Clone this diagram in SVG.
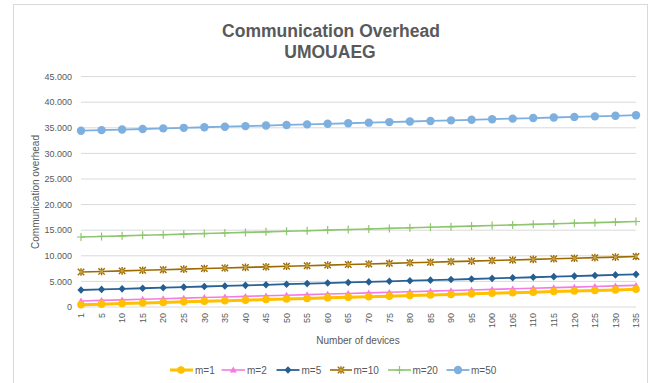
<svg xmlns="http://www.w3.org/2000/svg" xmlns:xlink="http://www.w3.org/1999/xlink" width="652" height="383" viewBox="0 0 652 383">
<style>
text{font-family:"Liberation Sans",Arial,sans-serif;fill:#595959}
.title{font-size:17.5px;font-weight:bold;text-anchor:middle}
.yl{font-size:9px;text-anchor:end}
.xl{font-size:9px;text-anchor:end}
.ax{font-size:10px;text-anchor:middle}
.lg{font-size:10px}
.grid{stroke:#d9d9d9;stroke-width:1}
.s{fill:none;stroke-linejoin:round}
.s1{stroke:#FFC000;stroke-width:3;marker-start:url(#mk1);marker-mid:url(#mk1);marker-end:url(#mk1)}
.s2{stroke:#F47BE0;stroke-width:1.6;marker-start:url(#mk2);marker-mid:url(#mk2);marker-end:url(#mk2)}
.s5{stroke:#2A6297;stroke-width:1.8;marker-start:url(#mk5);marker-mid:url(#mk5);marker-end:url(#mk5)}
.s10{stroke:#9C6A00;stroke-width:1.6;marker-start:url(#mk10);marker-mid:url(#mk10);marker-end:url(#mk10)}
.s20{stroke:#8DC66C;stroke-width:1.6;marker-start:url(#mk20);marker-mid:url(#mk20);marker-end:url(#mk20)}
.s50{stroke:#7DAFDF;stroke-width:1.8;marker-start:url(#mk50);marker-mid:url(#mk50);marker-end:url(#mk50)}
</style>
<defs>
<marker id="mk1" markerUnits="userSpaceOnUse" markerWidth="10" markerHeight="10" refX="5" refY="5" overflow="visible"><circle cx="5" cy="5" r="3.8" fill="#FFC000"/></marker>
<marker id="mk2" markerUnits="userSpaceOnUse" markerWidth="10" markerHeight="10" refX="5" refY="5" overflow="visible"><polygon points="5,1.6 8.5,7.6 1.5,7.6" fill="#F47BE0"/></marker>
<marker id="mk5" markerUnits="userSpaceOnUse" markerWidth="10" markerHeight="10" refX="5" refY="5" overflow="visible"><polygon points="5,1.2 8.6,5 5,8.8 1.4,5" fill="#255E91"/></marker>
<marker id="mk10" markerUnits="userSpaceOnUse" markerWidth="10" markerHeight="10" refX="5" refY="5" overflow="visible"><path d="M1.8,1.8 L8.2,8.2 M8.2,1.8 L1.8,8.2 M5,1.2 L5,8.8" stroke="#9C6A00" stroke-width="1.4" fill="none"/><rect x="3.5" y="3.5" width="3" height="3" fill="#C8A040"/></marker>
<marker id="mk20" markerUnits="userSpaceOnUse" markerWidth="10" markerHeight="10" refX="5" refY="5" overflow="visible"><path d="M1,5 L9,5 M5,1 L5,9" stroke="#8DC66C" stroke-width="1.2" fill="none"/></marker>
<marker id="mk50" markerUnits="userSpaceOnUse" markerWidth="10" markerHeight="10" refX="5" refY="5" overflow="visible"><circle cx="5" cy="5" r="4.2" fill="#7DAFDF"/></marker>
</defs>
<rect x="13.5" y="4.5" width="634" height="400" fill="#ffffff" stroke="#d9d9d9" stroke-width="1"/>
<g id="title">
<text class="title" x="331" y="37">Communication Overhead</text>
<text class="title" x="330" y="57.5">UMOUAEG</text>
</g>
<g id="gridlines">
<line class="grid" x1="81" y1="76.6" x2="636" y2="76.6"/>
<line class="grid" x1="81" y1="102.2" x2="636" y2="102.2"/>
<line class="grid" x1="81" y1="127.8" x2="636" y2="127.8"/>
<line class="grid" x1="81" y1="153.4" x2="636" y2="153.4"/>
<line class="grid" x1="81" y1="179" x2="636" y2="179"/>
<line class="grid" x1="81" y1="204.6" x2="636" y2="204.6"/>
<line class="grid" x1="81" y1="230.2" x2="636" y2="230.2"/>
<line class="grid" x1="81" y1="255.8" x2="636" y2="255.8"/>
<line class="grid" x1="81" y1="281.4" x2="636" y2="281.4"/>
<line class="grid" x1="81" y1="307" x2="636" y2="307"/>
</g>
<g id="y-axis">
<text class="yl" x="72" y="79.8">45.000</text>
<text class="yl" x="72" y="105.4">40.000</text>
<text class="yl" x="72" y="131">35.000</text>
<text class="yl" x="72" y="156.6">30.000</text>
<text class="yl" x="72" y="182.2">25.000</text>
<text class="yl" x="72" y="207.8">20.000</text>
<text class="yl" x="72" y="233.4">15.000</text>
<text class="yl" x="72" y="259">10.000</text>
<text class="yl" x="72" y="284.6">5.000</text>
<text class="yl" x="72" y="310.2">0</text>
<text class="ax" transform="translate(38.5,192) rotate(-90)">Communication overhead</text>
</g>
<g id="x-axis">
<text class="xl" transform="translate(84.2,313) rotate(-90)">1</text>
<text class="xl" transform="translate(104.8,313) rotate(-90)">5</text>
<text class="xl" transform="translate(125.3,313) rotate(-90)">10</text>
<text class="xl" transform="translate(145.9,313) rotate(-90)">15</text>
<text class="xl" transform="translate(166.4,313) rotate(-90)">20</text>
<text class="xl" transform="translate(187,313) rotate(-90)">25</text>
<text class="xl" transform="translate(207.5,313) rotate(-90)">30</text>
<text class="xl" transform="translate(228.1,313) rotate(-90)">35</text>
<text class="xl" transform="translate(248.6,313) rotate(-90)">40</text>
<text class="xl" transform="translate(269.2,313) rotate(-90)">45</text>
<text class="xl" transform="translate(289.8,313) rotate(-90)">50</text>
<text class="xl" transform="translate(310.3,313) rotate(-90)">55</text>
<text class="xl" transform="translate(330.9,313) rotate(-90)">60</text>
<text class="xl" transform="translate(351.4,313) rotate(-90)">65</text>
<text class="xl" transform="translate(372,313) rotate(-90)">70</text>
<text class="xl" transform="translate(392.5,313) rotate(-90)">75</text>
<text class="xl" transform="translate(413.1,313) rotate(-90)">80</text>
<text class="xl" transform="translate(433.6,313) rotate(-90)">85</text>
<text class="xl" transform="translate(454.2,313) rotate(-90)">90</text>
<text class="xl" transform="translate(474.8,313) rotate(-90)">95</text>
<text class="xl" transform="translate(495.3,313) rotate(-90)">100</text>
<text class="xl" transform="translate(515.9,313) rotate(-90)">105</text>
<text class="xl" transform="translate(536.4,313) rotate(-90)">110</text>
<text class="xl" transform="translate(557,313) rotate(-90)">115</text>
<text class="xl" transform="translate(577.5,313) rotate(-90)">120</text>
<text class="xl" transform="translate(598.1,313) rotate(-90)">125</text>
<text class="xl" transform="translate(618.6,313) rotate(-90)">130</text>
<text class="xl" transform="translate(639.2,313) rotate(-90)">135</text>
<text class="ax" x="358" y="343.5">Number of devices</text>
</g>
<g id="series">
<path id="series-m50" class="s s50" d="M81,130.7 l20.556,-0.574 l20.556,-0.574 l20.556,-0.574 l20.556,-0.574 l20.556,-0.574 l20.556,-0.574 l20.556,-0.574 l20.556,-0.574 l20.556,-0.574 l20.556,-0.574 l20.556,-0.574 l20.556,-0.574 l20.556,-0.574 l20.556,-0.574 l20.556,-0.574 l20.556,-0.574 l20.556,-0.574 l20.556,-0.574 l20.556,-0.574 l20.556,-0.574 l20.556,-0.574 l20.556,-0.574 l20.556,-0.574 l20.556,-0.574 l20.556,-0.574 l20.556,-0.574 l20.556,-0.574"/>
<path id="series-m20" class="s s20" d="M81,237 l20.556,-0.574 l20.556,-0.574 l20.556,-0.574 l20.556,-0.574 l20.556,-0.574 l20.556,-0.574 l20.556,-0.574 l20.556,-0.574 l20.556,-0.574 l20.556,-0.574 l20.556,-0.574 l20.556,-0.574 l20.556,-0.574 l20.556,-0.574 l20.556,-0.574 l20.556,-0.574 l20.556,-0.574 l20.556,-0.574 l20.556,-0.574 l20.556,-0.574 l20.556,-0.574 l20.556,-0.574 l20.556,-0.574 l20.556,-0.574 l20.556,-0.574 l20.556,-0.574 l20.556,-0.574"/>
<path id="series-m10" class="s s10" d="M81,272 l20.556,-0.574 l20.556,-0.574 l20.556,-0.574 l20.556,-0.574 l20.556,-0.574 l20.556,-0.574 l20.556,-0.574 l20.556,-0.574 l20.556,-0.574 l20.556,-0.574 l20.556,-0.574 l20.556,-0.574 l20.556,-0.574 l20.556,-0.574 l20.556,-0.574 l20.556,-0.574 l20.556,-0.574 l20.556,-0.574 l20.556,-0.574 l20.556,-0.574 l20.556,-0.574 l20.556,-0.574 l20.556,-0.574 l20.556,-0.574 l20.556,-0.574 l20.556,-0.574 l20.556,-0.574"/>
<path id="series-m5" class="s s5" d="M81,290 l20.556,-0.58 l20.556,-0.58 l20.556,-0.58 l20.556,-0.58 l20.556,-0.58 l20.556,-0.58 l20.556,-0.58 l20.556,-0.58 l20.556,-0.58 l20.556,-0.58 l20.556,-0.58 l20.556,-0.58 l20.556,-0.58 l20.556,-0.58 l20.556,-0.58 l20.556,-0.58 l20.556,-0.58 l20.556,-0.58 l20.556,-0.58 l20.556,-0.58 l20.556,-0.58 l20.556,-0.58 l20.556,-0.58 l20.556,-0.58 l20.556,-0.58 l20.556,-0.58 l20.556,-0.58"/>
<path id="series-m2" class="s s2" d="M81,301 l20.556,-0.58 l20.556,-0.58 l20.556,-0.58 l20.556,-0.58 l20.556,-0.58 l20.556,-0.58 l20.556,-0.58 l20.556,-0.58 l20.556,-0.58 l20.556,-0.58 l20.556,-0.58 l20.556,-0.58 l20.556,-0.58 l20.556,-0.58 l20.556,-0.58 l20.556,-0.58 l20.556,-0.58 l20.556,-0.58 l20.556,-0.58 l20.556,-0.58 l20.556,-0.58 l20.556,-0.58 l20.556,-0.58 l20.556,-0.58 l20.556,-0.58 l20.556,-0.58 l20.556,-0.58"/>
<path id="series-m1" class="s s1" d="M81,304.7 l20.556,-0.57 l20.556,-0.57 l20.556,-0.57 l20.556,-0.57 l20.556,-0.57 l20.556,-0.57 l20.556,-0.57 l20.556,-0.57 l20.556,-0.57 l20.556,-0.57 l20.556,-0.57 l20.556,-0.57 l20.556,-0.57 l20.556,-0.57 l20.556,-0.57 l20.556,-0.57 l20.556,-0.57 l20.556,-0.57 l20.556,-0.57 l20.556,-0.57 l20.556,-0.57 l20.556,-0.57 l20.556,-0.57 l20.556,-0.57 l20.556,-0.57 l20.556,-0.57 l20.556,-0.57"/>
</g>
<g id="legend">
<g id="legend-m1"><path class="s s1" style="marker-start:none;marker-end:none" d="M170,370 L181,370 L193,370"/><text class="lg" x="195" y="373.5">m=1</text></g>
<g id="legend-m2"><path class="s s2" style="marker-start:none;marker-end:none" d="M221.5,370 L233.3,370 L245,370"/><text class="lg" x="247" y="373.5">m=2</text></g>
<g id="legend-m5"><path class="s s5" style="marker-start:none;marker-end:none" d="M276.5,370 L288,370 L299.5,370"/><text class="lg" x="301.5" y="373.5">m=5</text></g>
<g id="legend-m10"><path class="s s10" style="marker-start:none;marker-end:none" d="M330,370 L341,370 L352,370"/><text class="lg" x="353.5" y="373.5">m=10</text></g>
<g id="legend-m20"><path class="s s20" style="marker-start:none;marker-end:none" d="M388,370 L399.5,370 L411,370"/><text class="lg" x="412.5" y="373.5">m=20</text></g>
<g id="legend-m50"><path class="s s50" style="marker-start:none;marker-end:none" d="M446.5,370 L458,370 L469.5,370"/><text class="lg" x="471" y="373.5">m=50</text></g>
</g>
</svg>
